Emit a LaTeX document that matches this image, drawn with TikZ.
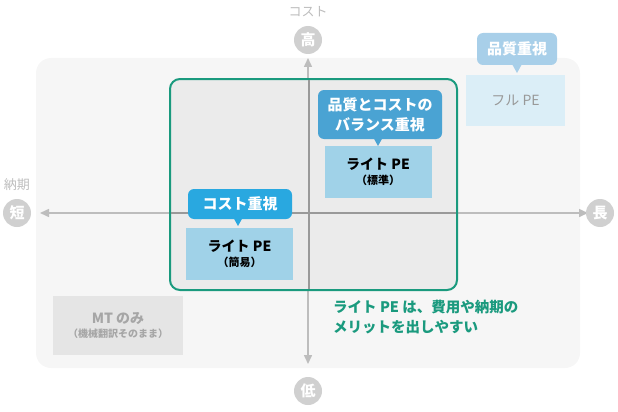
\documentclass[tikz,border=0pt]{standalone}
\usepackage{fontspec}
\setmainfont{Noto Sans CJK JP}
\usetikzlibrary{arrows.meta}
\definecolor{axg}{HTML}{BDBDBD}
\definecolor{circ}{HTML}{D0D0D0}
\definecolor{grn}{HTML}{1A9A7E}
\definecolor{lb}{HTML}{A0D2E8}
\definecolor{cb1}{HTML}{29A8E0}
\definecolor{cb2}{HTML}{4AA3D3}
\definecolor{cb3}{HTML}{A8CFE9}
\definecolor{fl}{HTML}{DBEEF7}
\begin{document}
\begin{tikzpicture}[x=1pt,y=-1pt,
 circ/.style={circle,fill=circ,text=white,minimum size=28pt,inner sep=0pt,font=\fontsize{15}{15}\selectfont\bfseries},
 axl/.style={text=axg,font=\fontsize{13}{13}\selectfont},
 pebox/.style={fill=lb,minimum width=107pt,minimum height=52pt,align=center,inner sep=0pt,font=\fontsize{14}{17}\selectfont\bfseries},
 call/.style={rounded corners=6pt,text=white,align=center,inner sep=0pt,font=\fontsize{15}{20}\selectfont\bfseries}]
\useasboundingbox (0,0) rectangle (618,412);
\fill[rounded corners=15pt,fill=black!3.5] (36,58) rectangle (580,368);
\draw[axg,line width=1.5pt,{Triangle[width=8pt,length=9pt]}-{Triangle[width=8pt,length=9pt]}] (40,213) -- (588,213);
\draw[axg,line width=1.5pt,{Triangle[width=8pt,length=9pt]}-{Triangle[width=8pt,length=9pt]}] (308,58) -- (308,364);
\node[circ] (tan) at (17,213) {短};
\node[axl] (nouki) at (17,185) {納期};
\node[circ] (cho) at (600,213) {長};
\node[circ] (ko) at (308,40) {高};
\node[axl] (cost) at (308,12) {コスト};
\node[circ] (tei) at (308,391) {低};
\draw[grn,line width=2pt,fill=black!8,rounded corners=10pt] (170,79) rectangle (457,290);
\draw[black!40,line width=1.2pt] (309,80) -- (309,289);
\draw[black!40,line width=1.2pt] (171,213) -- (456,213);
% simple
\node[pebox] (simple) at (239.5,254) {ライト PE\\[-2pt]{\fontsize{11}{12}\selectfont （簡易）}};
\fill[cb1] (233,217) -- (243,217) -- (238,226) -- cycle;
\node[call,fill=cb1,minimum width=104pt,minimum height=30pt] (c1) at (240,204) {コスト重視};
% standard
\node[pebox] (std) at (378,172) {ライト PE\\[-2pt]{\fontsize{11}{12}\selectfont （標準）}};
\fill[cb2] (373,137) -- (383,137) -- (378,146) -- cycle;
\node[call,fill=cb2,minimum width=124pt,minimum height=49pt] (c2) at (380,114.5) {品質とコストの\\バランス重視};
% full
\node[fill=fl,minimum width=99pt,minimum height=51pt,text=black!40,font=\fontsize{14}{14}\selectfont] (full) at (515.5,100.5) {フル PE};
\fill[cb3] (512,64) -- (522,64) -- (517,73) -- cycle;
\node[call,fill=cb3,minimum width=80pt,minimum height=32pt] (c3) at (517,49) {品質重視};
% MT
\node[fill=black!10,minimum width=130pt,minimum height=59pt,align=center,text=black!35,font=\fontsize{14}{16}\selectfont\bfseries] (mt) at (118,325.5) {MT のみ\\[-2pt]{\fontsize{10}{12}\selectfont （機械翻訳そのまま）}};
\node[text=grn,align=left,anchor=north west,inner sep=0pt,font=\fontsize{14.5}{20}\selectfont\bfseries] (note) at (333,300) {ライト PE は、費用や納期の\\メリットを出しやすい};
\end{tikzpicture}
\end{document}
